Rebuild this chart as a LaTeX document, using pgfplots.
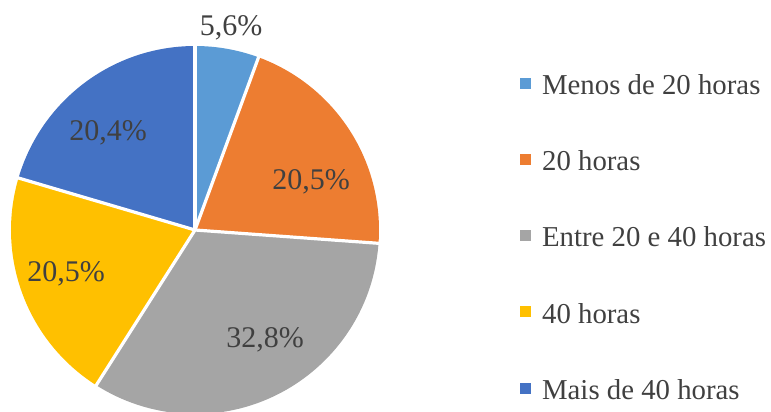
\documentclass[border=0pt]{standalone}
\usepackage{fontspec}
\setmainfont{Liberation Serif}
\usepackage{pgfplots}
\pgfplotsset{compat=1.18}

\definecolor{c1}{HTML}{5B9BD5}
\definecolor{c2}{HTML}{ED7D31}
\definecolor{c3}{HTML}{A5A5A5}
\definecolor{c4}{HTML}{FFC000}
\definecolor{c5}{HTML}{4472C4}
\definecolor{txt}{HTML}{404040}

% pie centre (axis units = pt), radius, total of the shares
\def\cx{97.5}\def\cy{91}\def\rr{92}\def\tot{99.8}

% wedge: colour, cumulative share before it, share
\newcommand\slice[3]{%
  \pgfmathsetmacro\angA{90-360/\tot*#2}%
  \pgfmathsetmacro\angB{90-360/\tot*(#2+#3)}%
  \pgfmathsetmacro\px{\cx+\rr*cos(\angA)}%
  \pgfmathsetmacro\py{\cy+\rr*sin(\angA)}%
  \edef\tmp{\noexpand\fill[#1] (axis cs:\cx,\cy) -- (axis cs:\px,\py)
    arc[start angle=\angA, end angle=\angB, radius=\rr pt] -- cycle;}%
  \tmp}
% white separator at a cumulative share
\newcommand\edge[1]{%
  \pgfmathsetmacro\angA{90-360/\tot*#1}%
  \pgfmathsetmacro\px{\cx+(\rr+1)*cos(\angA)}%
  \pgfmathsetmacro\py{\cy+(\rr+1)*sin(\angA)}%
  \edef\tmp{\noexpand\draw[white, line width=1.6pt] (axis cs:\cx,\cy) -- (axis cs:\px,\py);}%
  \tmp}

\begin{document}
\begin{tikzpicture}
\path[use as bounding box] (0,0) rectangle (385.5pt,206pt);
\begin{axis}[
    at={(0,0)}, anchor=south west,
    scale only axis, width=385.5pt, height=206pt,
    xmin=0, xmax=385.5, ymin=0, ymax=206,
    hide axis, clip=false,
]
\slice{c1}{0}{5.6}
\slice{c2}{5.6}{20.5}
\slice{c3}{26.1}{32.8}
\slice{c4}{58.9}{20.5}
\slice{c5}{79.4}{20.4}
\edge{0}\edge{5.6}\edge{26.1}\edge{58.9}\edge{79.4}

\begin{scope}[every node/.style={font=\fontsize{15}{18}\selectfont, text=txt, inner sep=0pt, anchor=base}]
\node at (axis cs:115.5,188) {5,6\%};
\node at (axis cs:155.5,111) {20,5\%};
\node at (axis cs:132.5,32.5) {32,8\%};
\node at (axis cs:33,65) {20,5\%};
\node at (axis cs:54,135.5) {20,4\%};
\end{scope}

\begin{scope}[every node/.style={font=\fontsize{14.4}{17}\selectfont, text=txt, inner sep=0pt, anchor=base west}]
\fill[c1] (axis cs:260,161.25) rectangle (axis cs:265.5,166.75);
\node at (axis cs:270.85,158.5) {Menos de 20 horas};
\fill[c2] (axis cs:260,123.25) rectangle (axis cs:265.5,128.75);
\node at (axis cs:270.85,120.5) {20 horas};
\fill[c3] (axis cs:260,85.25) rectangle (axis cs:265.5,90.75);
\node at (axis cs:270.85,82.5) {Entre 20 e 40 horas};
\fill[c4] (axis cs:260,47.25) rectangle (axis cs:265.5,52.75);
\node at (axis cs:270.85,44.5) {40 horas};
\fill[c5] (axis cs:260,9.25) rectangle (axis cs:265.5,14.75);
\node at (axis cs:270.85,6.5) {Mais de 40 horas};
\end{scope}
\end{axis}
\end{tikzpicture}
\end{document}
